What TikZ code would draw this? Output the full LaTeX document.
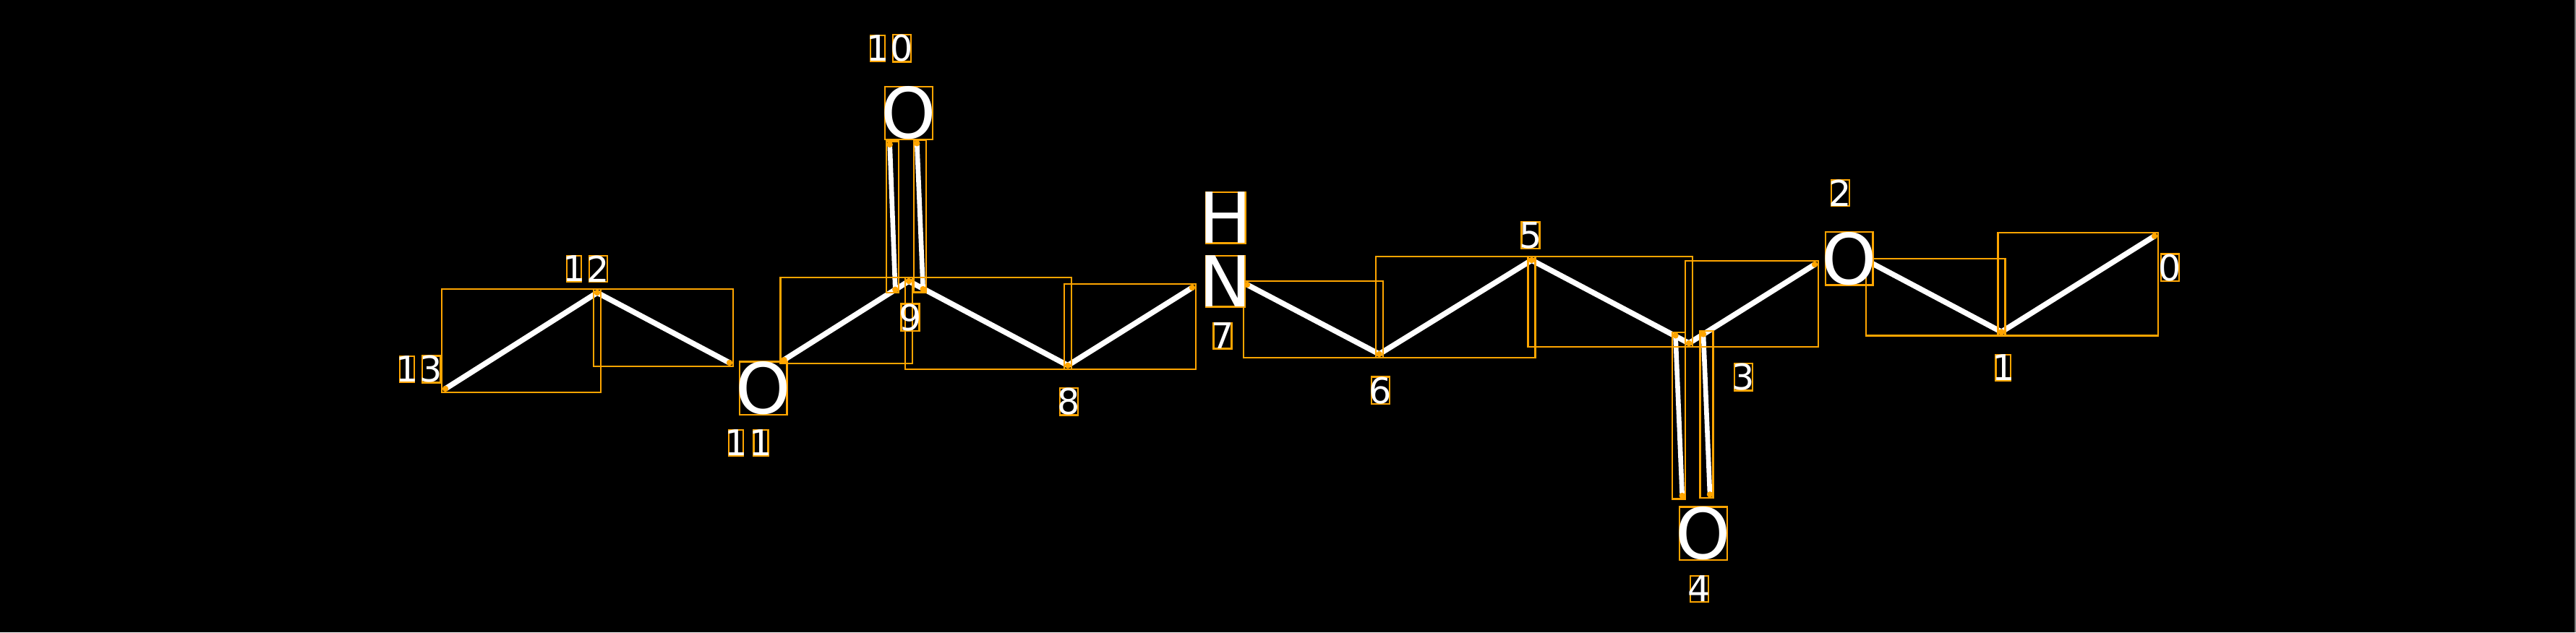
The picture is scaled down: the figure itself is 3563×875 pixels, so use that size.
\documentclass[tikz,border=0pt]{standalone}
\usepackage{fontspec}
\setmainfont{DejaVu Sans}
\definecolor{BoxOrange}{HTML}{FFA500}
\definecolor{EdgeGray}{HTML}{808080}
\usepackage{tikz}
\usetikzlibrary{fit}

\begin{document}
\begin{tikzpicture}[x=0.01cm,y=-0.01cm,
  bond/.style={white,line width=0.075cm},
  dbond/.style={white,line width=0.066cm},
  bondbox/.style={draw=BoxOrange,line width=0.024cm,inner sep=0.05cm},
  enddot/.style={fill=BoxOrange},
  atomtext/.style={text=white,draw=BoxOrange,line width=0.024cm,inner ysep=0pt,inner xsep=-0.054cm,font=\fontsize{27.6}{30}\selectfont},
  idxtext/.style={text=white,draw=BoxOrange,line width=0.024cm,inner ysep=0pt,inner xsep=-0.032cm,font=\fontsize{14}{16}\selectfont},
  idxone/.style={idxtext,inner xsep=-0.055cm}]
  \fill[black] (0,0) rectangle (3563,875);
  \useasboundingbox (0,0) rectangle (3563,875);
  \draw[EdgeGray,line width=0.015cm] (3562,0) -- (3562,875);

  % carbon atoms
  \coordinate (a0) at (2980,326.7);
  \coordinate (a1) at (2768.3,459.3);
  \coordinate (a3) at (2336,475);
  \coordinate (a5) at (2118.5,360);
  \coordinate (a6) at (1907.7,490);
  \coordinate (a8) at (1477,505.7);
  \coordinate (a9) at (1257,389);
  \coordinate (a12) at (826,405);
  \coordinate (a13) at (616,538);

  % bond ends next to O and N
  \coordinate (e11a) at (1009,502);
  \coordinate (e11b) at (1084.5,498);
  \coordinate (e7a) at (1649,398);
  \coordinate (e7b) at (1725,394);
  \coordinate (e2a) at (2510,366);
  \coordinate (e2b) at (2586,362.7);

  % double bond ends
  \coordinate (c9l) at (1238.3,400.7);
  \coordinate (o10l) at (1230.7,200);
  \coordinate (c9r) at (1276.7,400);
  \coordinate (o10r) at (1268.3,198.3);
  \coordinate (c3l) at (2317.5,464.3);
  \coordinate (o4l) at (2326.7,686);
  \coordinate (c3r) at (2356,462.5);
  \coordinate (o4r) at (2365,684.3);

  % single bonds
  \draw[bond] (a13) -- (a12);
  \draw[bond] (a12) -- (e11a);
  \draw[bond] (e11b) -- (a9);
  \draw[bond] (a9) -- (a8);
  \draw[bond] (a8) -- (e7a);
  \draw[bond] (e7b) -- (a6);
  \draw[bond] (a6) -- (a5);
  \draw[bond] (a5) -- (a3);
  \draw[bond] (a3) -- (e2a);
  \draw[bond] (e2b) -- (a1);
  \draw[bond] (a1) -- (a0);

  % C=O bonds
  \draw[dbond] (c9l) -- (o10l);
  \draw[dbond] (c9r) -- (o10r);
  \draw[dbond] (c3l) -- (o4l);
  \draw[dbond] (c3r) -- (o4r);

  % bond boxes
  \node[bondbox,fit=(a13)(a12)] (b13) {};
  \node[bondbox,fit=(a12)(e11a)] (b12) {};
  \node[bondbox,fit=(e11b)(a9)] (b11) {};
  \node[bondbox,fit=(a9)(a8)] (b9) {};
  \node[bondbox,fit=(a8)(e7a)] (b8) {};
  \node[bondbox,fit=(e7b)(a6)] (b7) {};
  \node[bondbox,fit=(a6)(a5)] (b6) {};
  \node[bondbox,fit=(a5)(a3)] (b5) {};
  \node[bondbox,fit=(a3)(e2a)] (b3) {};
  \node[bondbox,fit=(e2b)(a1)] (b2) {};
  \node[bondbox,fit=(a1)(a0)] (b1) {};
  \node[bondbox,inner sep=0.045cm,fit=(c9l)(o10l)] (b10l) {};
  \node[bondbox,inner sep=0.045cm,fit=(c9r)(o10r)] (b10r) {};
  \node[bondbox,inner sep=0.045cm,fit=(c3l)(o4l)] (b4l) {};
  \node[bondbox,inner sep=0.045cm,fit=(c3r)(o4r)] (b4r) {};

  % bond end dots
  \fill[enddot] (a0) circle (0.042cm);
  \fill[enddot] (a1) circle (0.042cm);
  \fill[enddot] (a3) circle (0.042cm);
  \fill[enddot] (a5) circle (0.042cm);
  \fill[enddot] (a6) circle (0.042cm);
  \fill[enddot] (a8) circle (0.042cm);
  \fill[enddot] (a9) circle (0.042cm);
  \fill[enddot] (a12) circle (0.042cm);
  \fill[enddot] (a13) circle (0.042cm);
  \fill[enddot] (e11a) circle (0.042cm);
  \fill[enddot] (e11b) circle (0.042cm);
  \fill[enddot] (e7a) circle (0.042cm);
  \fill[enddot] (e7b) circle (0.042cm);
  \fill[enddot] (e2a) circle (0.042cm);
  \fill[enddot] (e2b) circle (0.042cm);
  \fill[enddot] (c9l) circle (0.042cm);
  \fill[enddot] (o10l) circle (0.042cm);
  \fill[enddot] (c9r) circle (0.042cm);
  \fill[enddot] (o10r) circle (0.042cm);
  \fill[enddot] (c3l) circle (0.042cm);
  \fill[enddot] (o4l) circle (0.042cm);
  \fill[enddot] (c3r) circle (0.042cm);
  \fill[enddot] (o4r) circle (0.042cm);

  % hetero atoms
  \node[atomtext] (O10) at (1256.9,156.4) {O};
  \node[atomtext] (O11) at (1055.5,537) {O};
  \node[atomtext,inner xsep=-0.095cm] (N7) at (1694.5,389.2) {N};
  \node[atomtext,inner xsep=-0.092cm] (H7) at (1695,301.3) {H};
  \node[atomtext] (O4) at (2355.9,738.2) {O};
  \node[atomtext] (O2) at (2557.5,357.9) {O};

  % atom indices
  \node[idxtext] (i0) at (3001.5,370.3) {0};
  \node[idxone] (i1) at (2770.8,508.7) {1};
  \node[idxtext] (i2) at (2545.3,267) {2};
  \node[idxtext] (i3) at (2411.5,521.7) {3};
  \node[idxtext] (i4) at (2350.3,815) {4};
  \node[idxtext] (i5) at (2117,325.9) {5};
  \node[idxtext] (i6) at (1909.5,540.3) {6};
  \node[idxtext] (i7) at (1691,464.7) {7};
  \node[idxtext] (i8) at (1478.5,555.9) {8};
  \node[idxtext] (i9) at (1259,439.3) {9};
  \node[idxone] (i10a) at (1214,66.7) {1};
  \node[idxtext] (i10b) at (1247.6,66.7) {0};
  \node[idxone] (i11a) at (1018,612.8) {1};
  \node[idxone] (i11b) at (1052.5,612.8) {1};
  \node[idxone] (i12a) at (794,372) {1};
  \node[idxtext] (i12b) at (827.5,372) {2};
  \node[idxone] (i13a) at (563,511) {1};
  \node[idxtext] (i13b) at (596.5,511) {3};
\end{tikzpicture}
\end{document}
